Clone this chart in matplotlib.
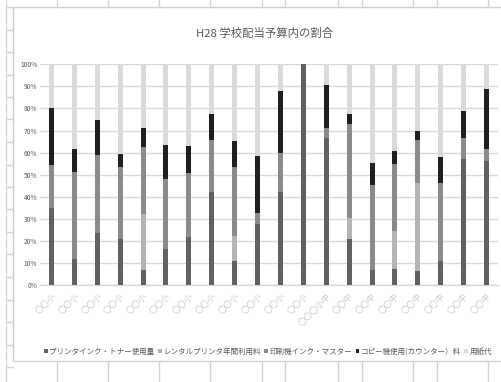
import matplotlib
matplotlib.use("Agg")
import matplotlib.pyplot as plt
from matplotlib.patches import Rectangle, Patch
import numpy as np

plt.rcParams['font.family'] = ['Noto Sans CJK JP', 'DejaVu Sans']

# School labels
schools = ["〇〇小"] * 12 + ["〇〇〇小中"] + ["〇〇中"] * 7

series_names = [
    "プリンタインク・トナー使用量",
    "レンタルプリンタ年間利用料",
    "印刷機インク・マスター",
    "コピー機使用(カウンター）料",
    "用紙代",
]

# Share of budget per school (%)
printer_ink = [35.0, 11.8, 23.7, 21.0, 6.8, 16.5, 21.9, 42.1, 11.0, 27.8,
               42.3, 100.0, 66.5, 20.8, 6.8, 7.3, 6.2, 11.0, 57.3, 56.3]
rental_printer = [0, 0, 0, 0, 25.4, 0, 0, 0, 11.2, 0,
                  0, 0, 0, 9.7, 0, 17.2, 40.2, 0, 0, 0]
press_ink = [19.4, 39.2, 35.2, 32.3, 30.2, 31.4, 28.9, 23.6, 31.4, 4.7,
             17.5, 0, 4.5, 42.5, 38.5, 30.3, 19.3, 35.4, 9.3, 5.3]
copier = [26.0, 10.6, 15.7, 6.2, 8.6, 15.5, 12.0, 11.8, 11.7, 26.1,
          28.1, 0, 19.8, 4.5, 10.1, 6.1, 4.2, 11.5, 12.4, 27.1]
paper = [19.6, 38.4, 25.4, 40.5, 29.0, 36.6, 37.2, 22.5, 34.7, 41.4,
         12.1, 0, 9.2, 22.5, 44.6, 39.1, 30.1, 42.1, 21.0, 11.3]

colors = ["#616161", "#b4b4b4", "#8b8b8b", "#202020", "#dadada"]

W, H = 502, 382
fig = plt.figure(figsize=(W / 100, H / 100), dpi=100)

# Worksheet backdrop in pixel coordinates
bg = fig.add_axes([0, 0, 1, 1], zorder=0)
bg.set_xlim(0, W)
bg.set_ylim(H, 0)
bg.axis("off")
cell_color = "#d4d4d4"
col_x = [57, 108, 159, 210, 262, 285, 338, 362, 413, 437, 488]
for cx in col_x:
    bg.plot([cx, cx], [0, 7], color=cell_color, lw=1)
    bg.plot([cx, cx], [361, H], color=cell_color, lw=1)
bg.plot([6, 6], [0, H], color=cell_color, lw=1)
for ry in [7, 30, 52, 75, 97, 119, 142, 165, 187, 209, 232, 254, 277,
           300, 322, 345, 367]:
    bg.plot([6, 13], [ry, ry], color=cell_color, lw=1)
bg.add_patch(Rectangle((13, 7), 520, 354, facecolor="white",
                       edgecolor="#d0d0d0", lw=1))

# Plot area
ax = fig.add_axes([40 / W, (H - 285) / H, 458 / W, (285 - 64.3) / H], zorder=1)
ax.patch.set_alpha(0)

x = np.arange(len(schools))
bottom = np.zeros(len(schools))
for vals, col in zip([printer_ink, rental_printer, press_ink, copier, paper], colors):
    v = np.array(vals) / 100.0
    ax.bar(x, v, bottom=bottom, width=0.22, color=col, zorder=3)
    bottom += v

ax.set_xlim(-0.5, len(schools) - 0.5)
ax.set_ylim(0, 1.0)
ax.set_yticks(np.arange(0, 1.01, 0.1))
ax.set_yticklabels([f"{int(round(t * 100))}%" for t in np.arange(0, 1.01, 0.1)],
                   fontsize=4.8, color="#595959")
ax.yaxis.grid(True, color="#d9d9d9", lw=1, zorder=0)
ax.tick_params(axis="y", length=0, pad=2)
ax.set_xticks(x)
ax.set_xticklabels(schools, rotation=45, ha="right", rotation_mode="anchor",
                   fontsize=6.0, color="#c8c8c8")
ax.tick_params(axis="x", length=0, pad=5)
for s in ["top", "right", "left"]:
    ax.spines[s].set_visible(False)
ax.spines["bottom"].set_color("#d9d9d9")
ax.spines["bottom"].set_linewidth(1)

fig.text(265 / W, 1 - 33 / H, "H28 学校配当予算内の割合", ha="center", va="center",
         fontsize=8.2, color="#595959")

handles = [Patch(facecolor=c, edgecolor="none") for c in colors]
fig.legend(handles, series_names, loc="center", ncol=5,
           bbox_to_anchor=(268 / W, 1 - 352 / H), frameon=False,
           fontsize=5.45, handlelength=0.5, handleheight=0.5,
           handletextpad=0.15, columnspacing=0.5, labelcolor="#595959")

fig.savefig("out.png", dpi=100)
